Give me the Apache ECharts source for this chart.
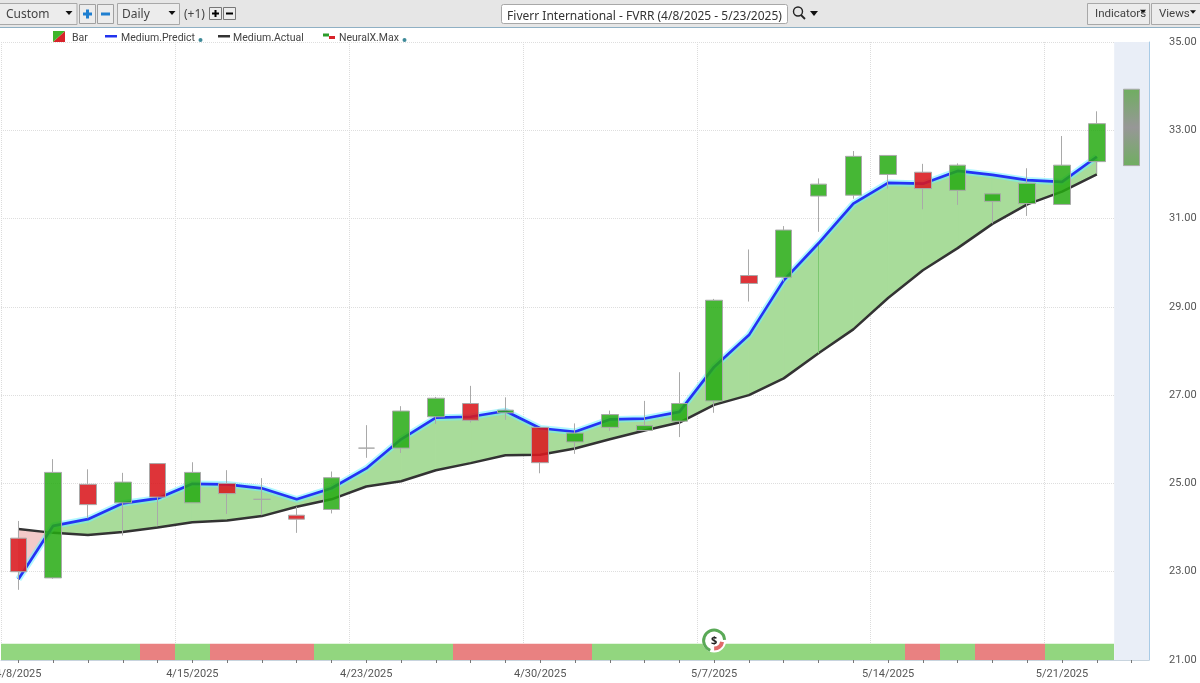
<!DOCTYPE html>
<html><head><meta charset="utf-8">
<style>html,body{margin:0;padding:0;background:#fff;overflow:hidden}#c{width:1200px;height:683px}</style>
<script src="https://cdn.jsdelivr.net/npm/echarts@6/dist/echarts.min.js"></script>
</head><body><div id="c"></div>
<script>
const dates=['4/8/2025','4/9/2025','4/10/2025','4/11/2025','4/14/2025','4/15/2025','4/16/2025','4/17/2025','4/21/2025','4/22/2025','4/23/2025','4/24/2025','4/25/2025','4/28/2025','4/29/2025','4/30/2025','5/1/2025','5/2/2025','5/5/2025','5/6/2025','5/7/2025','5/8/2025','5/9/2025','5/12/2025','5/13/2025','5/14/2025','5/15/2025','5/16/2025','5/19/2025','5/20/2025','5/21/2025','5/22/2025','5/23/2025'];
const opens =[23.76,22.86,24.98,24.56,25.45,24.56,25.00,24.64,24.28,24.41,25.80,25.80,26.51,26.81,26.60,26.27,25.94,26.27,26.20,26.41,26.87,29.71,29.67,31.51,31.53,32.00,32.05,31.64,31.39,31.34,31.32,32.29];
const closes=[23.00,25.25,24.52,25.03,24.69,25.25,24.77,24.64,24.19,25.13,25.80,26.64,26.93,26.43,26.66,25.47,26.14,26.56,26.31,26.81,29.15,29.53,30.74,31.78,32.41,32.43,31.68,32.21,31.56,31.80,32.21,33.15];
const highs =[24.15,25.55,25.32,25.24,25.45,25.48,25.30,25.12,24.47,25.27,26.32,26.75,26.96,27.21,26.95,26.27,26.36,26.65,26.87,27.52,29.18,30.30,30.83,31.91,32.53,32.43,32.24,32.25,31.56,32.14,32.87,33.43];
const lows  =[22.59,22.84,24.21,23.82,24.04,24.56,24.31,24.28,23.88,24.32,25.58,25.69,26.35,26.38,26.44,25.23,25.67,26.19,26.20,26.05,26.60,29.12,29.58,30.70,31.45,31.68,31.21,31.31,30.89,31.06,31.32,32.03];
const predict=[22.83,24.04,24.19,24.55,24.66,24.99,24.98,24.89,24.64,24.89,25.34,26.00,26.49,26.51,26.64,26.25,26.17,26.45,26.47,26.62,27.64,28.36,29.60,30.44,31.34,31.81,31.79,32.08,31.99,31.87,31.83,32.40];
const actual =[23.97,23.88,23.83,23.90,24.00,24.12,24.16,24.26,24.47,24.64,24.93,25.05,25.30,25.46,25.64,25.65,25.79,26.00,26.20,26.38,26.78,27.00,27.38,27.95,28.49,29.20,29.83,30.33,30.88,31.32,31.61,32.00];
const neuralSignal=[1,1,1,1,-1,1,-1,-1,-1,1,1,1,1,-1,-1,-1,-1,1,1,1,1,1,1,1,1,1,-1,1,-1,-1,1,1];
const forecastBar=[32.20,33.93];
const stripLevel=21.37, axisMin=21, axisMax=35;
const yTicks=[21,23,25,27,29,31,33,35];
const labelled=[0,5,10,15,20,25,30];
const badgePoint=[20,21.44];
const seamIndex=23;

const FONT='"Noto Sans"',LEG='10.5px Roboto',AX='Roboto';
const GREEN='rgba(38,170,18,0.85)',RED='rgba(218,24,30,0.88)',WICK='#a9a9a9';
const candleData=opens.map((o,i)=>[o,closes[i],lows[i],highs[i]]);
candleData.push({value:[forecastBar[0],forecastBar[1],forecastBar[0],forecastBar[1]],itemStyle:{
  color:new echarts.graphic.LinearGradient(0,0,0,1,[{offset:0,color:'#6fae60'},{offset:.5,color:'#979797'},{offset:1,color:'#6fae60'}]),
  borderColor:WICK}});
const bandData=predict.slice(0,-1).map((p,i)=>[i,p,actual[i],predict[i+1],actual[i+1]]);
const stripData=neuralSignal.map((s,i)=>[i,s,stripLevel]);

function renderBand(params,api){
  const i=api.value(0),a0=api.value(1),b0=api.value(2),a1=api.value(3),b1=api.value(4);
  const A0=api.coord([i,a0]),B0=api.coord([i,b0]),A1=api.coord([i+1,a1]),B1=api.coord([i+1,b1]);
  const d0=a0-b0,d1=a1-b1;
  const GF='#a8dc9a',RF='#f3c9c9';
  const poly=(pts,c)=>({type:'polygon',shape:{points:pts},style:{fill:c,stroke:c,lineWidth:1}});
  if(d0*d1>=0) return poly([A0,A1,B1,B0],d0+d1>=0?GF:RF);
  const t=d0/(d0-d1);
  const X=[A0[0]+(A1[0]-A0[0])*t,A0[1]+(A1[1]-A0[1])*t];
  return {type:'group',children:[poly([A0,X,B0],d0>0?GF:RF),poly([X,A1,B1],d1>0?GF:RF)]};
}
function renderStrip(params,api){
  const i=api.value(0),s=api.value(1),lvl=api.value(2);
  const top=api.coord([i,lvl]),base=api.coord([i,axisMin]),half=api.size([1,0])[0]/2;
  const x0=Math.round(top[0]-half),x1=Math.round(top[0]+half);
  return {type:'rect',shape:{x:x0,y:top[1],width:x1-x0,height:base[1]-top[1]},style:{fill:s>0?'#92d67f':'#e98181'}};
}
function renderBadge(params,api){
  const p=api.coord([api.value(0),api.value(1)]),cx=p[0],cy=p[1];
  const arc=(s,e,c,w)=>({type:'arc',shape:{cx,cy,r:10.5,startAngle:s,endAngle:e,clockwise:true},style:{fill:null,stroke:c,lineWidth:w}});
  return {type:'group',children:[
    {type:'circle',shape:{cx,cy,r:12},style:{fill:'#fff'}},
    arc(Math.PI*.62,Math.PI*1.98,'#5aa957',3),
    {type:'arc',shape:{cx,cy,r:8,startAngle:Math.PI*.05,endAngle:Math.PI*.5,clockwise:true},style:{fill:null,stroke:'#e06a6a',lineWidth:4}},
    {type:'text',style:{x:cx,y:cy,text:'$',fill:'#222',font:'bold 11px '+FONT,align:'center',verticalAlign:'middle'}}
  ]};
}

const T=(x,y,text,o={})=>({type:'text',silent:true,z:50,style:Object.assign({x,y,text,fill:'#444',font:'12px '+FONT,verticalAlign:'middle'},o)});
const R=(x,y,w,h,fill,stroke,r)=>({type:'rect',silent:true,z:49,shape:{x,y,width:w,height:h,r:r||0},style:{fill:fill||'none',stroke:stroke||'none',lineWidth:1}});
const Tri=(x,y,s,c)=>({type:'polygon',silent:true,z:50,shape:{points:[[x-s,y-s*.6],[x+s,y-s*.6],[x,y+s*.6]]},style:{fill:c||'#111'}});
const chrome=[
  R(0,0,1200,27,'#e6e6e6'),R(0,27,1200,1,'#8fb0c4'),
  R(-3,3.5,80,21,'#ececec','#a8a8a8'),T(6,15,'Custom'),Tri(69,13,3.5),
  R(79.5,4.5,16,19,'#ececec','#a0a0a0'),R(83,12.5,9,3,'#1f7fd0'),R(86,9.5,3,9,'#1f7fd0'),
  R(97.5,4.5,16,19,'#ececec','#a0a0a0'),R(101,12.5,9,3,'#1f7fd0'),
  R(117.5,3.5,62,21,'#ececec','#a8a8a8'),T(122,15,'Daily'),Tri(172,13,3.5),
  T(184,15,'(+1)'),
  R(209.5,7.5,12,12,'#ececec','#777'),R(212,12.5,7,2,'#000'),R(214.5,10,2,7,'#000'),
  R(223.5,7.5,12,12,'#ececec','#777'),R(226,12.5,7,2,'#000'),
  R(501.5,4.5,286,19,'#ffffff','#a8a8a8',2),T(644.5,17,'Fiverr International - FVRR (4/8/2025 - 5/23/2025)',{align:'center',fill:'#333'}),
  {type:'circle',silent:true,z:50,shape:{cx:798,cy:11.5,r:4.5},style:{fill:'none',stroke:'#222',lineWidth:1.4}},
  {type:'line',silent:true,z:50,shape:{x1:801,y1:15,x2:805,y2:19},style:{stroke:'#222',lineWidth:1.8}},
  Tri(814,13.5,4),
  R(1087.5,3.5,62,21,'#ececec','#a8a8a8'),T(1095,14,'Indicators',{font:'11.5px Roboto'}),Tri(1143,11.5,3),
  R(1151.5,3.5,50,21,'#ececec','#a8a8a8'),T(1159,14,'Views',{font:'11.5px Roboto'}),Tri(1193,12,3),
  {type:'polygon',silent:true,z:50,shape:{points:[[53,42],[65,31],[65,42]]},style:{fill:'#d8232a'}},
  {type:'polygon',silent:true,z:50,shape:{points:[[53,42],[53,31],[65,31]]},style:{fill:'#3fb52a'}},
  T(72,38,'Bar',{font:LEG}),
  R(105,35,12,2.5,'#2233ee'),T(121,38,'Medium.Predict',{font:LEG}),
  {type:'circle',silent:true,z:50,shape:{cx:200.5,cy:40,r:2},style:{fill:'#3f8a99'}},
  R(218,35,12,2.5,'#333'),T(233,38,'Medium.Actual',{font:LEG}),
  R(323,33.5,6,3,'#2c9c2c'),R(329,36,6,3,'#d8232a'),T(339,38,'NeuralX.Max',{font:LEG}),
  {type:'circle',silent:true,z:50,shape:{cx:404.5,cy:40,r:2},style:{fill:'#3f8a99'}}
];

const chart=echarts.init(document.getElementById('c'),null,{renderer:'canvas'});
chart.setOption({
  animation:false,backgroundColor:'#fff',
  grid:{left:1,right:51,top:42,bottom:23,containLabel:false,outerBoundsMode:'none'},
  tooltip:{show:false},
  graphic:chrome,
  xAxis:{type:'category',data:dates,boundaryGap:true,
    axisLine:{lineStyle:{color:'#c8d4de'}},
    axisTick:{show:true,alignWithLabel:true,interval:0,length:3,lineStyle:{color:'#777'}},
    axisLabel:{interval:(i)=>labelled.includes(i),color:'#555',fontFamily:AX,fontSize:11,margin:7,padding:[2,0,0,0],hideOverlap:false},
    splitLine:{show:true,interval:(i)=>labelled.includes(i),lineStyle:{color:'#dcdcdc',type:'dotted',width:1}}},
  yAxis:{type:'value',position:'right',min:axisMin,max:axisMax,
    axisLine:{show:true,lineStyle:{color:'#a9cbe6'}},
    axisTick:{show:false,customValues:yTicks},
    axisLabel:{customValues:yTicks,color:'#555',fontFamily:AX,fontSize:11,margin:20,padding:[9,0,0,0],formatter:v=>v.toFixed(2)},
    splitLine:{show:true,lineStyle:{color:'#dedede',type:'dotted',width:1}}},
  series:[
    {name:'Forecast',type:'bar',barWidth:'100%',silent:true,z:1,
     data:dates.map((d,i)=>i===dates.length-1?axisMax:null),itemStyle:{color:'#e9eef7'}},
    {name:'NeuralX.Max',type:'custom',silent:true,z:2,renderItem:renderStrip,data:stripData,encode:{x:0,y:2}},
    {name:'Band',type:'custom',z:3,silent:true,renderItem:renderBand,data:bandData,encode:{x:0,y:[1,2]}},
    {name:'Medium.Actual',type:'line',z:4,data:actual,symbol:'none',silent:true,lineStyle:{color:'#333',width:2.5},
     markLine:{silent:true,symbol:'none',label:{show:false},lineStyle:{color:'#7cc870',type:'solid',width:1},
       data:[[{xAxis:seamIndex,yAxis:predict[seamIndex]},{xAxis:seamIndex,yAxis:actual[seamIndex]}]]}},
    {name:'Predict glow',type:'line',z:4,data:predict,symbol:'none',silent:true,
     lineStyle:{color:'rgba(110,240,255,.55)',width:6.5}},
    {name:'Medium.Predict',type:'line',z:5,data:predict,symbol:'none',silent:true,
     lineStyle:{color:'#2433f5',width:2.7}},
    {name:'Bar',type:'candlestick',z:6,barWidth:17,silent:true,data:candleData,
     itemStyle:{color:GREEN,color0:RED,borderColor:WICK,borderColor0:WICK,borderColorDoji:WICK,borderWidth:1}},
    {name:'Badge',type:'custom',z:7,silent:true,clip:false,renderItem:renderBadge,data:[badgePoint],encode:{x:0,y:1}}
  ]
});
</script></body></html>
